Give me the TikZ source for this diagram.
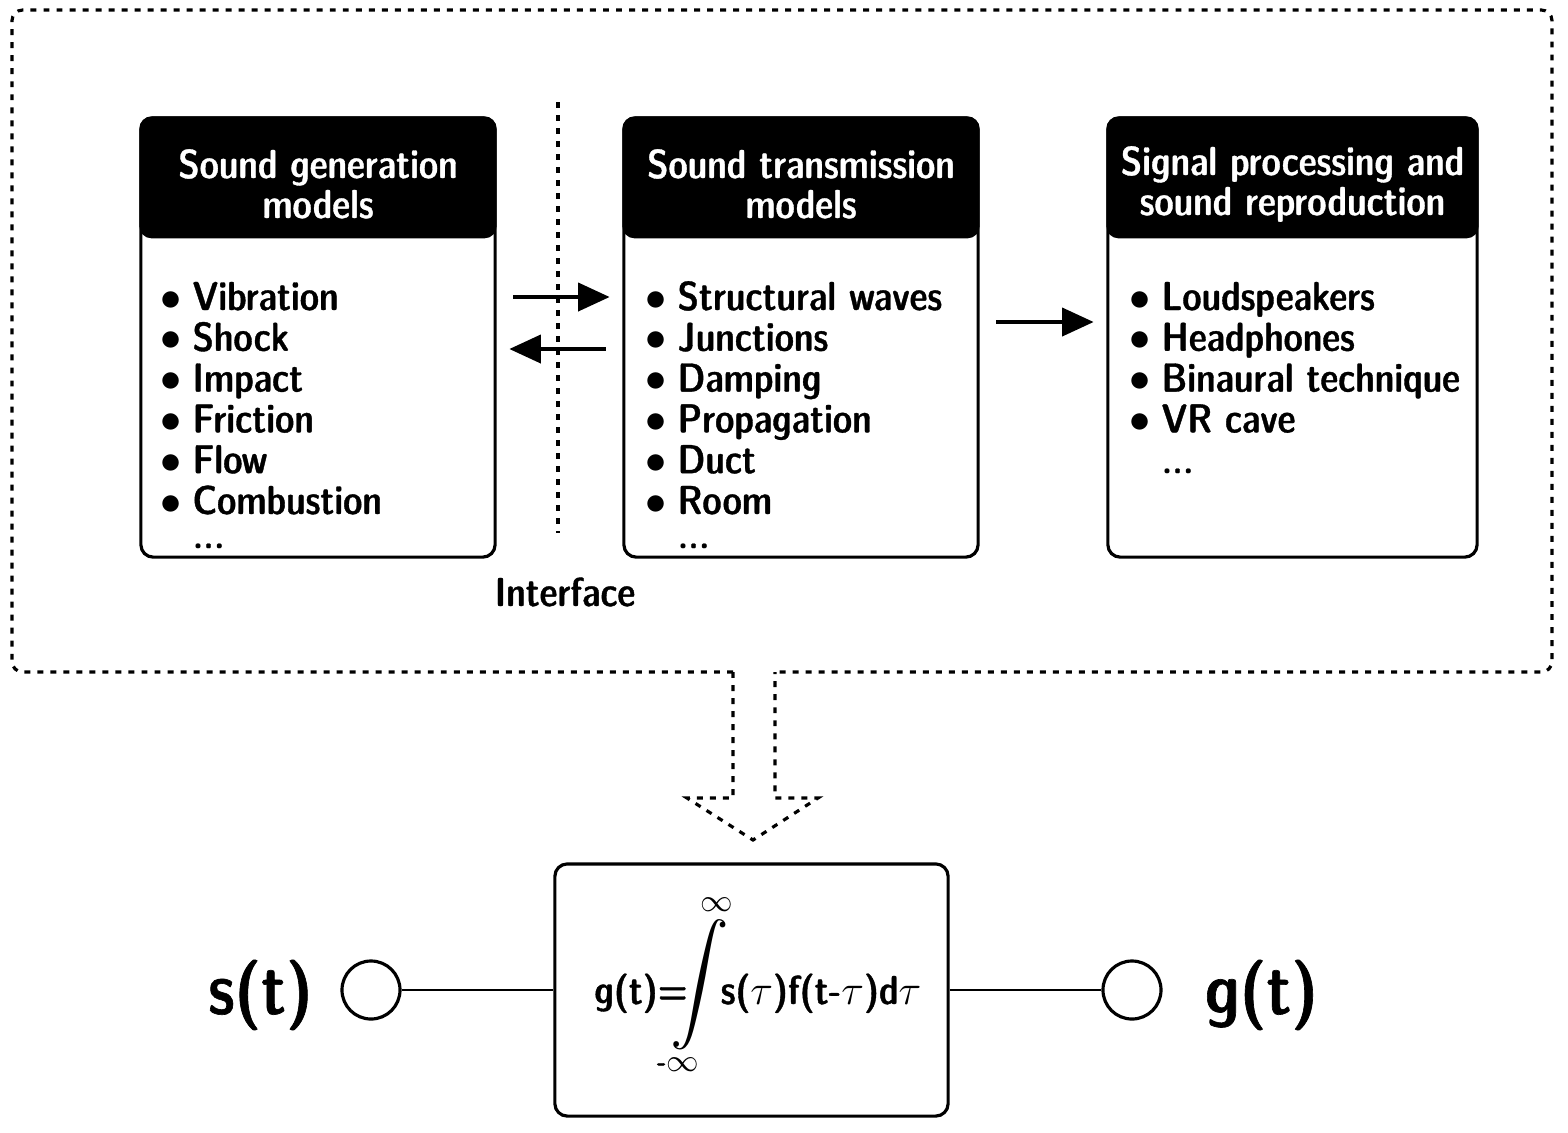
\documentclass[tikz,border=0pt]{standalone}
\usepackage{fontspec}
\newfontfamily\dcfont{lmsansdemicond10-regular}[Extension=.otf, FakeBold=0.9]
\usetikzlibrary{arrows.meta}

\newcommand{\schrift}[1]{\fontsize{#1}{#1}\dcfont}
\newcommand{\punkt}{\llap{$\bullet$\hspace{3pt}}}

\tikzset{
	modbox/.style={draw, rectangle, rounded corners=3.5pt, inner sep=0pt, minimum height=4.39cm},
	kopf/.style={anchor=base, inner sep=0pt, text=white, font=\schrift{11.5}},
	eintrag/.style={anchor=base west, inner sep=0pt, font=\schrift{11.5}},
	pfeil/.style={line width=1.1pt, -{Triangle[length=9pt,width=8pt]}, shorten <=4.7pt, shorten >=3.6pt},
	punktlinie/.style={line width=0.9pt, dash pattern=on 1.7pt off 2pt},
	anschluss/.style={draw, circle, inner sep=0pt, minimum size=0.58cm},
}

\begin{document}
\begin{tikzpicture}[x=0.01cm, y=-0.01cm, line width=0.9pt]
	\useasboundingbox (0,0) rectangle (1568,1132);
	
	% Modell-Kaesten
	\node (gen) [modbox, minimum width=3.54cm] at (318,337.5) {};
	\node (trans) [modbox, minimum width=3.54cm] at (801,337.5) {};
	\node (sig) [modbox, minimum width=3.69cm] at (1292.5,337.5) {};
	\foreach \b in {gen,trans,sig}
		\fill[rounded corners=3.5pt] (\b.north west) rectangle ([yshift=-1.22cm]\b.north east);
	
	% Kopfzeilen
	\node (genK1) [kopf] at (318,178) {Sound generation};
	\node (genK2) [kopf] at (318,218) {models};
	\node (transK1) [kopf] at (801,178) {Sound transmission};
	\node (transK2) [kopf] at (801,218) {models};
	\node (sigK1) [kopf] at (1292.5,175) {Signal processing and};
	\node (sigK2) [kopf] at (1292.5,215) {sound reproduction};
	
	% Listen
	\foreach \txt [count=\i] in {Vibration,Shock,Impact,Friction,Flow,Combustion}
		\node (genP\i) [eintrag] at (191,{310+40.8*(\i-1)}) {\punkt\txt};
	\node (genP7) [eintrag] at (191,548) {...};
	\foreach \txt [count=\i] in {Structural waves,Junctions,Damping,Propagation,Duct,Room}
		\node (transP\i) [eintrag] at (676,{310+40.8*(\i-1)}) {\punkt\txt};
	\node (transP7) [eintrag] at (676,548) {...};
	\foreach \txt [count=\i] in {Loudspeakers,Headphones,Binaural technique,VR cave}
		\node (sigP\i) [eintrag] at (1160,{310+40.8*(\i-1)}) {\punkt\txt};
	\node (sigP5) [eintrag] at (1160,473) {...};
	
	% Pfeile zwischen den Kaesten
	\coordinate (hinY) at (0,297);
	\coordinate (rueckY) at (0,349);
	\coordinate (weiterY) at (0,322);
	\draw[pfeil] (gen.east |- hinY) -- (trans.west |- hinY);
	\draw[pfeil] (trans.west |- rueckY) -- (gen.east |- rueckY);
	\draw[pfeil] (trans.east |- weiterY) -- (sig.west |- weiterY);
	
	% Schnittstelle
	\draw[punktlinie] (558,102) -- (558,533);
	\node (schnitt) [eintrag, anchor=base] at (565,606) {Interface};
	
	% Rahmen und Hohlpfeil
	\draw[punktlinie, rounded corners=3pt] (733,672) -- (12,672) -- (12,10) -- (1552,10) -- (1552,672) -- (775,672);
	\draw[punktlinie] (733,672) -- (733,798) -- (687,798) -- (753,840) -- (818,798) -- (775,798) -- (775,672);
	
	% Faltung
	\node (faltung) [draw, rectangle, rounded corners=3.5pt, minimum width=3.93cm, minimum height=2.52cm] at (751.5,990) {};
	\node (ein) [anschluss] at (371,990) {};
	\node (aus) [anschluss] at (1132,990) {};
	\draw[line width=0.75pt] (ein) -- (faltung);
	\draw[line width=0.75pt] (faltung) -- (aus);
	
	\node (gLinks) [anchor=base, inner sep=0pt, font=\schrift{11.5}] at (641,1004) {g(t)=};
	\node (integral) [inner sep=0pt] at (700,985) {\scalebox{1.67}{$\displaystyle\int$}};
	\node (oben) [inner sep=0pt, font=\schrift{9}] at (717,905) {$\infty$};
	\node (unten) [inner sep=0pt, font=\schrift{9}] at (678,1065) {-$\infty$};
	\node (gRechts) [anchor=base, inner sep=0pt, font=\schrift{11.5}] at (821,1004) {s($\tau$)f(t-$\tau$)d$\tau$};
	
	% Ein- und Ausgang
	\node (sLabel) [anchor=base, inner sep=0pt, font=\schrift{20.5}] at (260.5,1014) {s(t)};
	\node (gLabel) [anchor=base, inner sep=0pt, font=\schrift{20.5}] at (1261.5,1014) {g(t)};
	
\end{tikzpicture}
\end{document}
